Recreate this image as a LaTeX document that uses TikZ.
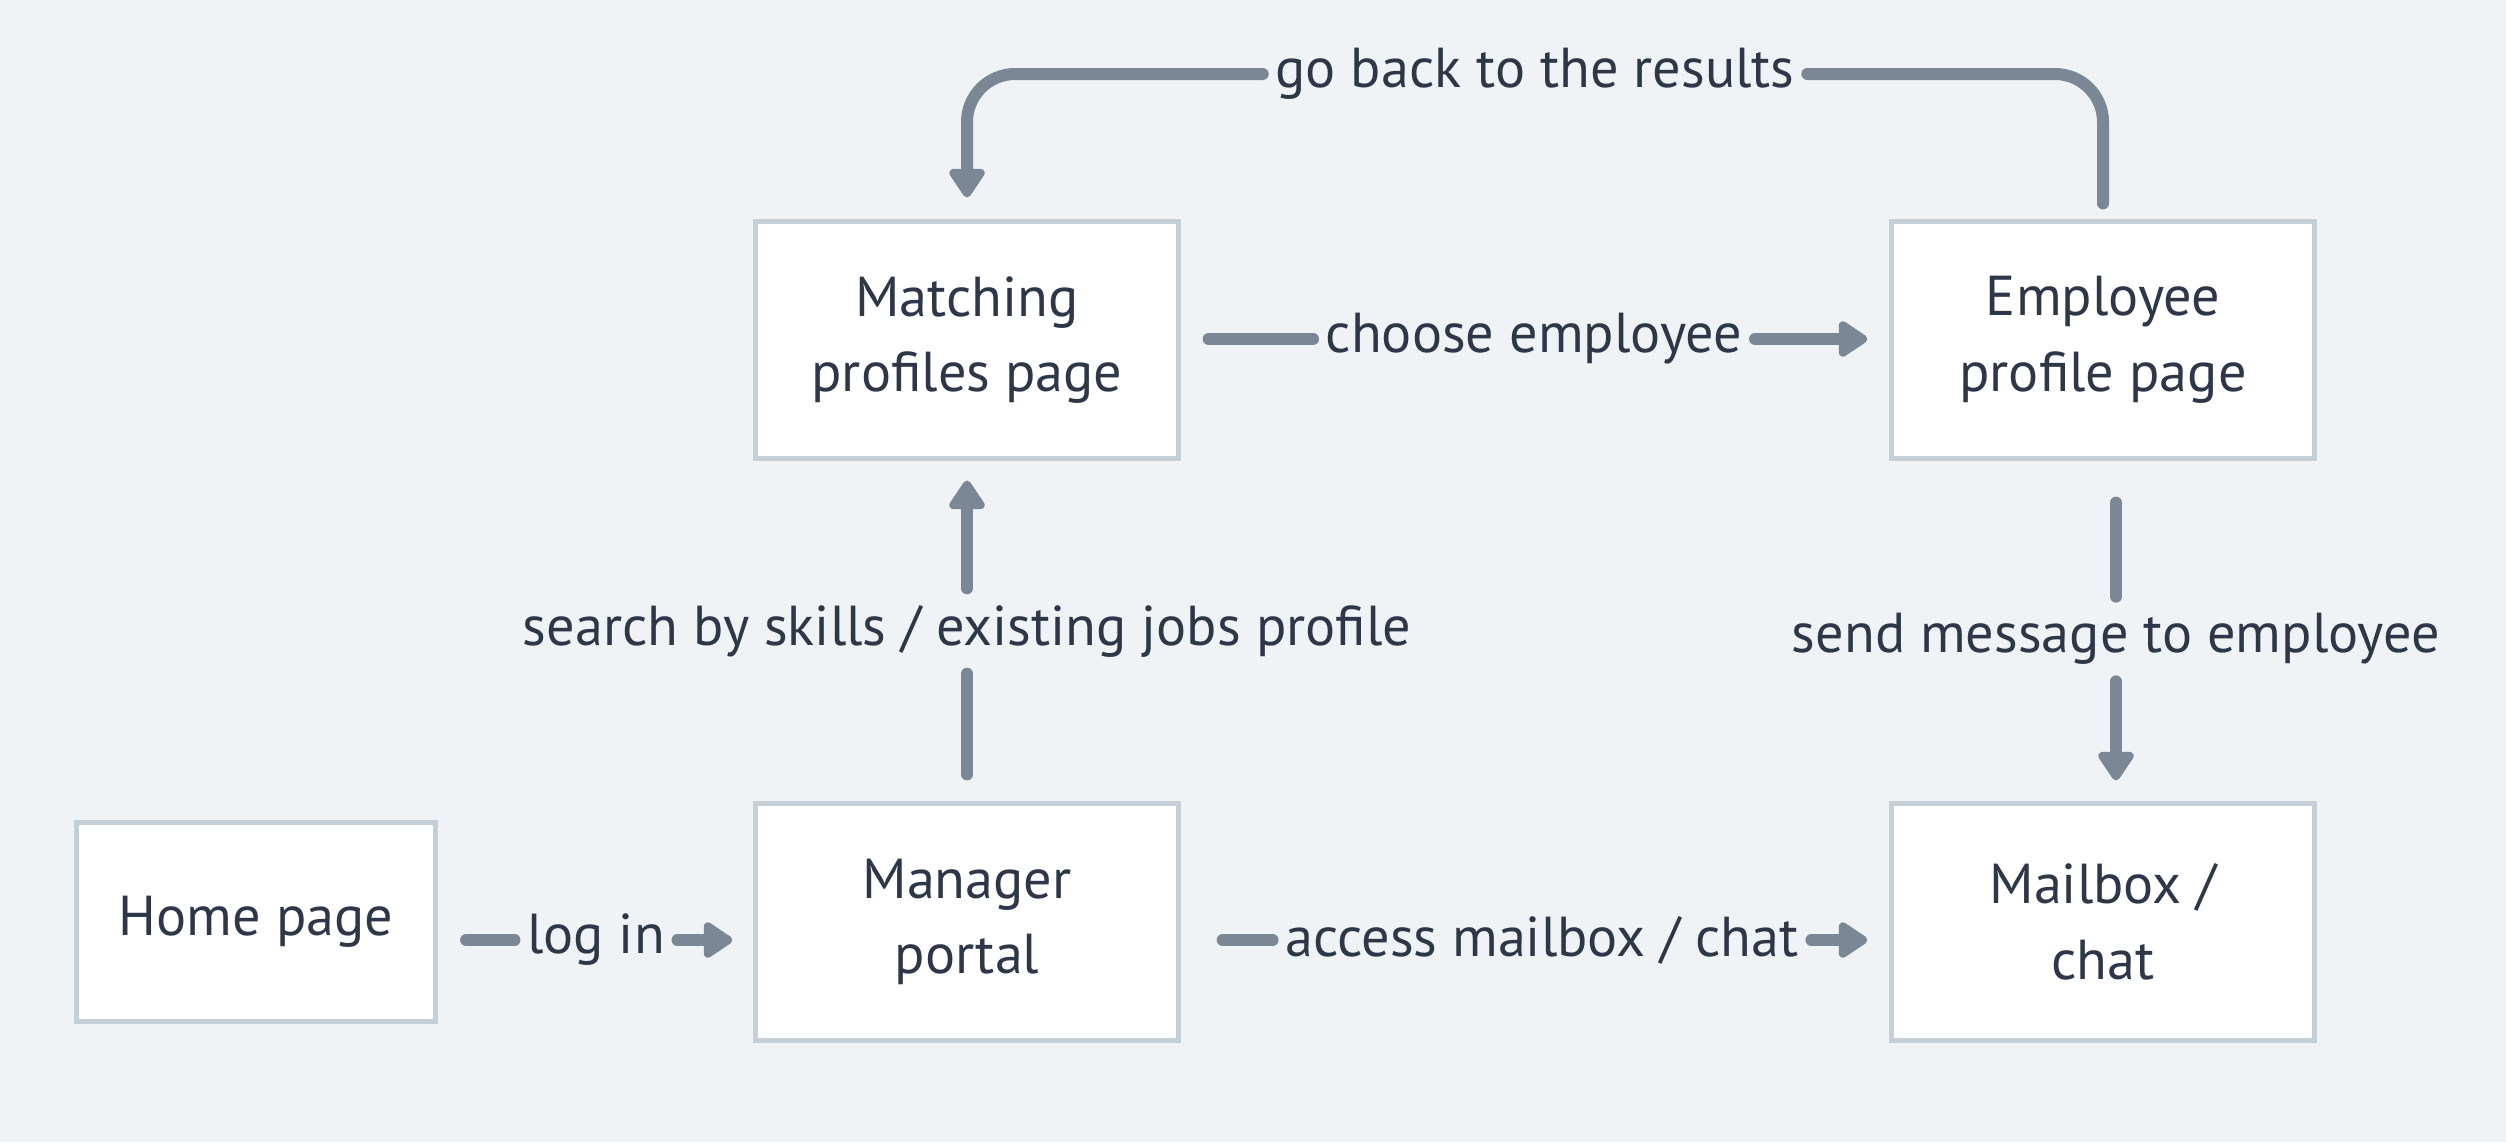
\documentclass[tikz,border=0pt]{standalone}
\usepackage{fontspec}
\setmainfont{PT Sans}
\usetikzlibrary{arrows.meta, positioning}
\definecolor{canvas}{RGB}{240,243,246}
\definecolor{boxedge}{RGB}{197,207,216}
\definecolor{inkgray}{RGB}{45,55,72}
\definecolor{linkgray}{RGB}{123,135,148}

\begin{document}
\begin{tikzpicture}[
        x=0.01cm, y=-0.01cm,
        pagebox/.style={rectangle, draw=boxedge, fill=white, line width=0.05cm, minimum width=4.22cm, minimum height=2.36cm, align=center, text=inkgray, font=\fontsize{16}{21.5}\selectfont},
        lbl/.style={text=inkgray, inner xsep=0.12cm, inner ysep=0.16cm, font=\fontsize{16}{18}\selectfont},
        link/.style={draw=linkgray, line width=0.12cm, line cap=round},
        arrow/.style={link, -{Triangle[length=0.32cm, width=0.4cm, round]}}
    ]
        \fill[canvas] (0,0) rectangle (2506,1142);

        \node[pagebox, minimum width=3.59cm, minimum height=1.98cm] (home) at (256,922) {Home page};
        \node[pagebox] (mgr) at (967,922) {Manager\\portal};
        \node[pagebox] (match) at (967,340) {Matching\\profiles page};
        \node[pagebox] (emp) at (2103,340) {Employee\\profile page};
        \node[pagebox] (mail) at (2103,922) {Mailbox /\\chat};

        \node[lbl] (login) at (596,940) {log in};
        \node[lbl] (access) at (1542,940) {access mailbox / chat};
        \node[lbl] (choose) at (1534,339) {choose employee};
        \node[lbl] (search) at (967,631) {search by skills / existing jobs profile};
        \node[lbl] (send) at (2116,639) {send message to employee};
        \node[lbl] (back) at (1535,74) {go back to the results};

        \draw[link, shorten <=0.28cm] (home.east |- login) -- (login);
        \draw[arrow, shorten >=0.21cm] (login) -- (mgr.west |- login);
        \draw[link, shorten <=0.42cm] (mgr.east |- access) -- (access);
        \draw[arrow, shorten >=0.22cm] (access) -- (mail.west |- access);
        \draw[link, shorten <=0.28cm] (match.east |- choose) -- (choose);
        \draw[arrow, shorten >=0.22cm] (choose) -- (emp.west |- choose);
        \draw[link, shorten <=0.27cm] (mgr) -- (search);
        \draw[arrow, shorten >=0.2cm] (search) -- (match);
        \draw[link, shorten <=0.42cm] (emp.south -| send) -- (send);
        \draw[arrow, shorten >=0.21cm] (send) -- (mail.north -| send);
        \draw[link, rounded corners=0.48cm, shorten <=0.16cm] (emp.north) |- (back);
        \draw[arrow, rounded corners=0.48cm, shorten >=0.22cm] (back) -| (match.north);
    \end{tikzpicture}
\end{document}
